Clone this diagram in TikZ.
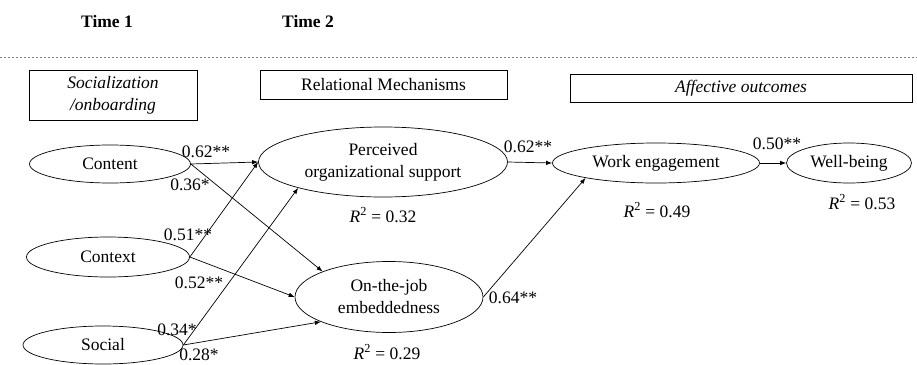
\documentclass[tikz,border=0pt]{standalone}
\usepackage{fontspec}
\setmainfont{Liberation Serif}
\usetikzlibrary{arrows.meta,shapes.geometric}
\begin{document}
\begin{tikzpicture}[x=1pt,y=-1pt,
  every node/.style={font=\fontsize{17.5}{22}\selectfont, inner sep=0pt},
  ell/.style={draw, ellipse, line width=0.7pt, align=center},
  hbox/.style={draw, line width=0.7pt, align=center},
  conn/.style={line width=0.7pt, -{Latex[length=6pt,width=4.5pt]}}]
\useasboundingbox (0,0) rectangle (917,364);
% headers
\node (t1) at (107,22) {\textbf{Time 1}};
\node (t2) at (308,22) {\textbf{Time 2}};
\coordinate (dl) at (0,57);
\coordinate (dr) at (917,57);
\draw[gray, line width=0.8pt, dash pattern=on 2pt off 2pt] (dl) -- (dr);
% category boxes
\node[hbox, minimum width=168pt, minimum height=50pt] (soc) at (113,95) {\textit{Socialization}\\\textit{/onboarding}};
\node[hbox, minimum width=247pt, minimum height=29pt] (rel) at (383.5,84.5) {Relational Mechanisms};
\node[hbox, minimum width=342pt, minimum height=28pt] (aff) at (741,88) {\textit{Affective outcomes}};
% ellipses
\node[ell, minimum width=161pt, minimum height=38pt] (content) at (110,164) {Content};
\node[ell, minimum width=163pt, minimum height=40pt] (context) at (108,257) {Context};
\node[ell, minimum width=160pt, minimum height=38pt] (social) at (103,345) {Social};
\node[ell, minimum width=249pt, minimum height=70pt] (pos) at (383,162) {Perceived\\organizational support};
\node[ell, minimum width=188pt, minimum height=71pt] (oje) at (389,297) {On-the-job\\embeddedness};
\node[ell, minimum width=207pt, minimum height=40pt] (we) at (656,163) {Work engagement};
\node[ell, minimum width=125pt, minimum height=40pt] (wb) at (849,163) {Well-being};
% R2
\node (r1) at (383,215) {\textit{R}\textsuperscript{2} = 0.32};
\node (r2) at (387,352) {\textit{R}\textsuperscript{2} = 0.29};
\node (r3) at (657,210) {\textit{R}\textsuperscript{2} = 0.49};
\node (r4) at (862,202) {\textit{R}\textsuperscript{2} = 0.53};
% connectors
\draw[conn] (content.east) -- (pos.west);
\draw[conn] (content.east) -- (oje.159);
\draw[conn] (context.east) -- (pos.west);
\draw[conn] (context.east) -- (oje.west);
\draw[conn] (social.east) -- (pos.197);
\draw[conn] (social.east) -- (oje.200);
\draw[conn] (pos.east) -- (we.west);
\draw[conn] (oje.east) -- (we.192);
\draw[conn] (we.east) -- (wb.west);
% path labels
\node (l1) at (206,152) {0.62**};
\node (l2) at (190,185) {0.36*};
\node (l3) at (188,235) {0.51**};
\node (l4) at (199,283) {0.52**};
\node (l5) at (177,330) {0.34*};
\node (l6) at (199,355) {0.28*};
\node (l7) at (528,147) {0.62**};
\node (l8) at (513,298) {0.64**};
\node (l9) at (777,144) {0.50**};
\end{tikzpicture}
\end{document}
